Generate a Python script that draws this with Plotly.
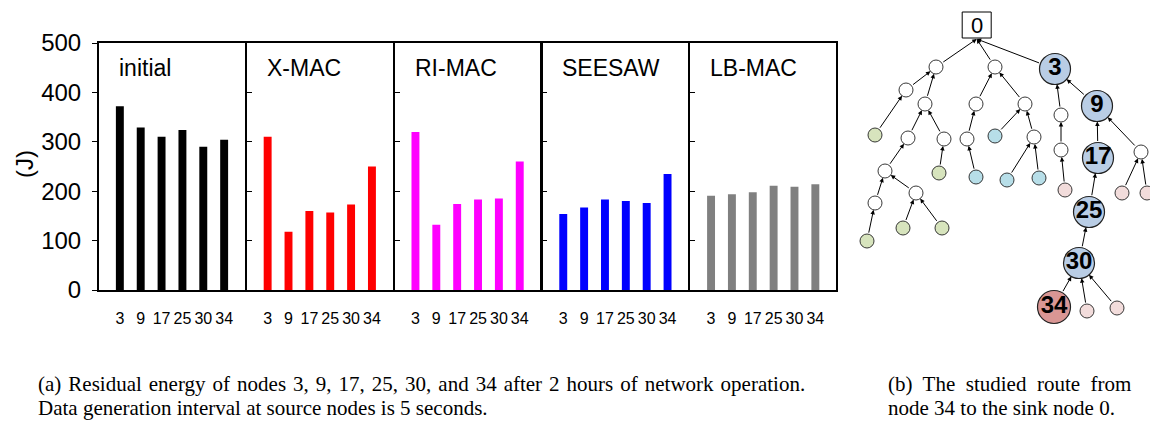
import plotly.graph_objects as go

# ---------------- data ----------------
node_ids = ["3", "9", "17", "25", "30", "34"]
panels = ["initial", "X-MAC", "RI-MAC", "SEESAW", "LB-MAC"]
initial = [372, 329, 310, 324, 290, 304]
xmac = [310, 118, 160, 157, 173, 250]
rimac = [320, 132, 174, 183, 185, 260]
seesaw = [154, 167, 183, 180, 176, 235]
lbmac = [191, 194, 198, 211, 209, 214]
series = [initial, xmac, rimac, seesaw, lbmac]
bar_colors = ["#000000", "#ff0000", "#ff00ff", "#0000ff", "#808080"]
y_ticks = [0, 100, 200, 300, 400, 500]

# tree (b): node name -> (x, y) in drawing units, kind, label
tree_nodes = {
    "root": (976.7, 25, "box", "0"),
    "a1": (936, 67, "white", ""), "b1": (995, 67, "white", ""),
    "n3": (1055, 69, "big", "3"),
    "c": (906, 90, "white", ""), "d": (925, 104, "white", ""),
    "g1": (875, 135, "green", ""),
    "e": (908, 138, "white", ""), "f": (944, 139, "white", ""),
    "gg": (885, 171, "white", ""), "g2": (939, 173, "green", ""),
    "h": (875, 203, "white", ""), "i": (916, 193, "white", ""),
    "g3": (867, 241, "green", ""), "g4": (903, 228, "green", ""), "g5": (942, 228, "green", ""),
    "j": (976, 104, "white", ""), "k": (1025, 104, "white", ""),
    "l": (967, 139, "white", ""), "c1": (976, 177, "cyan", ""),
    "c2": (995, 136, "cyan", ""), "m": (1034, 137, "white", ""),
    "c3": (1007, 180, "cyan", ""), "c4": (1039, 178, "cyan", ""),
    "nn": (1061, 115, "white", ""), "o": (1061, 150, "white", ""), "p1": (1065, 190, "pink", ""),
    "n9": (1097, 106, "big", "9"), "n17": (1098, 158, "big", "17"),
    "pp": (1141, 152, "white", ""), "p2": (1122, 193, "pink", ""), "p3": (1147, 193, "pink", ""),
    "n25": (1089, 212, "big", "25"), "n30": (1079, 263, "big", "30"),
    "n34": (1054, 307, "red", "34"), "p4": (1087, 311, "pink", ""), "p5": (1117, 308, "pink", ""),
}
tree_edges = [
    ("a1", "root"), ("b1", "root"), ("n3", "root"),
    ("c", "a1"), ("d", "a1"), ("g1", "c"), ("e", "d"), ("f", "d"),
    ("gg", "e"), ("g2", "f"), ("h", "gg"), ("i", "gg"), ("g3", "h"),
    ("g4", "i"), ("g5", "i"),
    ("j", "b1"), ("k", "b1"), ("l", "j"), ("c1", "l"), ("c2", "k"), ("m", "k"),
    ("c3", "m"), ("c4", "m"),
    ("nn", "n3"), ("n9", "n3"), ("o", "nn"), ("p1", "o"),
    ("n17", "n9"), ("pp", "n9"), ("p2", "pp"), ("p3", "pp"),
    ("n25", "n17"), ("n30", "n25"),
    ("n34", "n30"), ("p4", "n30"), ("p5", "n30"),
]
kind_style = {  # fill, diameter
    "white": ("#ffffff", 14), "green": ("#d7e4bd", 14), "cyan": ("#b7dee8", 14),
    "pink": ("#f2dcdb", 14), "big": ("#b9cde5", 31), "red": ("#d99694", 33),
}

caption_a = ["(a) Residual energy of nodes 3, 9, 17, 25, 30, and 34 after 2 hours of network operation.",
             "Data generation interval at source nodes is 5 seconds."]
caption_b = ["(b)  The  studied  route  from", "node 34 to the sink node 0."]

# ---------------- figure ----------------
W, H = 1150, 421
fig = go.Figure()

def px_x(p):
    return p / W

def px_y(p):
    return 1 - p / H

panel_left0, panel_step, panel_w = 99, 147.8, 146
y_dom = [px_y(290), px_y(43)]
sans = "Liberation Sans, Arial, sans-serif"
serif = "Liberation Serif, Times New Roman, serif"

layout = dict(width=W, height=H, margin=dict(l=0, r=0, t=0, b=0, autoexpand=False),
              paper_bgcolor="white", plot_bgcolor="white", showlegend=False)
annotations = []
xs = list(range(len(node_ids)))
for i, (name, vals, col) in enumerate(zip(panels, series, bar_colors)):
    k = "" if i == 0 else str(i + 1)
    fig.add_trace(go.Bar(x=xs, y=vals, marker=dict(color=col, line=dict(width=0)),
                         width=0.38, xaxis="x" + k, yaxis="y" + k))
    left = panel_left0 + i * panel_step
    layout["xaxis" + k] = dict(domain=[px_x(left), px_x(left + panel_w)], range=[-1, 6],
                               anchor="y" + k, showline=True, mirror=True, linewidth=2,
                               linecolor="black", showgrid=False, zeroline=False, automargin=False,
                               tickvals=xs, ticktext=node_ids, ticks="",
                               tickfont=dict(family=sans, size=16, color="black"),
                               ticklabelstandoff=13)
    ydict = dict(domain=y_dom, range=[0, 500], anchor="x" + k, showline=True, mirror=True,
                 linewidth=2, linecolor="black", showgrid=False, zeroline=False, automargin=False,
                 tickvals=y_ticks, tickcolor="black", tickwidth=1)
    if i == 0:
        ydict.update(ticks="outside", ticklen=5, showticklabels=True,
                     tickfont=dict(family=sans, size=24, color="black"), ticklabelstandoff=6)
    else:
        ydict.update(ticks="inside", ticklen=5, showticklabels=False)
    layout["yaxis" + k] = ydict
    annotations.append(dict(text=name, x=px_x(left + 18), y=px_y(68), xref="paper", yref="paper",
                            xanchor="left", yanchor="middle", showarrow=False,
                            font=dict(family=sans, size=23, color="black")))

annotations.append(dict(text="(J)", x=px_x(25), y=px_y(164), xref="paper", yref="paper",
                        textangle=-90, showarrow=False, xanchor="center", yanchor="middle",
                        font=dict(family=sans, size=24, color="black")))

# ---- tree ----
layout["xaxis6"] = dict(domain=[px_x(840), 1], range=[840, 1150], visible=False, anchor="y6",
                        fixedrange=True, automargin=False)
layout["yaxis6"] = dict(domain=[px_y(330), 1], range=[330, 0], visible=False, anchor="x6",
                        fixedrange=True, automargin=False)

for child, parent in tree_edges:
    cx, cy, ck, _ = tree_nodes[child]
    px_, py_, pk, _ = tree_nodes[parent]
    if pk == "box":
        tx, ty, so = px_, py_ + 14, 0
    else:
        tx, ty, so = px_, py_, kind_style[pk][1] / 2
    annotations.append(dict(x=tx, y=ty, ax=cx, ay=cy, xref="x6", yref="y6", axref="x6", ayref="y6",
                            text="", showarrow=True, arrowhead=2, arrowsize=0.9, arrowwidth=1,
                            arrowcolor="black", standoff=so,
                            startstandoff=kind_style[ck][1] / 2))

for kind in ["white", "green", "cyan", "pink", "big", "red"]:
    names = [n for n, v in tree_nodes.items() if v[2] == kind]
    fill, d = kind_style[kind]
    fig.add_trace(go.Scatter(
        x=[tree_nodes[n][0] for n in names], y=[tree_nodes[n][1] for n in names],
        text=[tree_nodes[n][3] for n in names], mode="markers+text" if kind in ("big", "red") else "markers",
        textposition="middle center",
        textfont=dict(family=sans, size=24, color="black", weight="bold"),
        marker=dict(size=d, color=fill, line=dict(color="#222222", width=1.2 if d > 20 else 0.9)),
        xaxis="x6", yaxis="y6", hoverinfo="skip", cliponaxis=False))

rx, ry, _, rlab = tree_nodes["root"]
shapes = [dict(type="rect", xref="x6", yref="y6", x0=rx - 14.5, x1=rx + 14.5, y0=ry - 13, y1=ry + 13,
               line=dict(color="black", width=1), fillcolor="white", layer="above")]
annotations.append(dict(text=rlab, x=rx, y=ry, xref="x6", yref="y6", showarrow=False,
                        font=dict(family=sans, size=22, color="black")))

# ---- captions ----
line_a1 = caption_a[0].replace(" ", " \u200a")  # justified line: slightly wider word gaps
for j, line in enumerate([line_a1, caption_a[1]]):
    annotations.append(dict(text=line, x=px_x(36), y=px_y(384 + 24 * j), xref="paper", yref="paper",
                            xanchor="left", yanchor="middle", showarrow=False,
                            font=dict(family=serif, size=21, color="black")))
for j, line in enumerate(caption_b):
    annotations.append(dict(text=line, x=px_x(886), y=px_y(384 + 24 * j), xref="paper", yref="paper",
                            xanchor="left", yanchor="middle", showarrow=False,
                            font=dict(family=serif, size=21, color="black")))

layout["annotations"] = annotations
layout["shapes"] = shapes
fig.update_layout(**layout)
fig.write_html("out.html")
